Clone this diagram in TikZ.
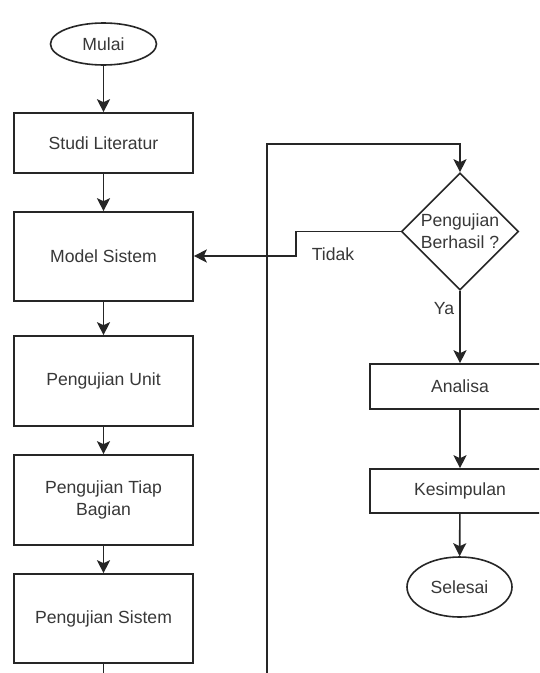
\documentclass[tikz,border=0pt]{standalone}
\usepackage{fontspec}
\setmainfont{Liberation Sans}
\usetikzlibrary{shapes.geometric,arrows.meta}
\begin{document}
\begin{tikzpicture}[x=1pt,y=-1pt,
  font=\fontsize{17.6}{22}\selectfont,
  txt/.style={text=black!78},
  flow/.style={draw=black!85, line width=1.6pt},
  proc/.style={flow, txt, rectangle, minimum width=179pt, align=center, inner sep=0pt},
  term/.style={flow, txt, ellipse, inner sep=0pt},
  decide/.style={flow, txt, diamond, minimum width=117pt, minimum height=117pt, inner sep=0pt, align=center},
  link/.style={draw=black!85, line width=1.6pt, -{Stealth[length=13pt,width=13pt,inset=3pt]}},
  plain/.style={draw=black!85, line width=1.6pt}]
\useasboundingbox (0,0) rectangle (539,673);
\clip (0,0) rectangle (539,673);
\fill[white] (0,0) rectangle (539,673);

% left column
\node[term, minimum width=106pt, minimum height=42pt] (mulai) at (103.5,44) {Mulai};
\node[proc, minimum height=60pt] (studi) at (103.5,143) {Studi Literatur};
\node[proc, minimum height=89pt] (model) at (103.5,256.5) {Model Sistem};
\node[proc, minimum height=90pt] (unit) at (103.5,381) {Pengujian Unit};
\node[proc, minimum height=90pt] (tiap) at (103.5,500) {Pengujian Tiap\\Bagian};
\node[proc, minimum height=89pt] (sistem) at (103.5,618.5) {Pengujian Sistem};

% right column
\node[decide] (uji) at (460,231.5) {Pengujian\\Berhasil ?};
\node[proc, minimum width=180pt, minimum height=45pt] (analisa) at (460,386.5) {Analisa};
\node[proc, minimum width=180pt, minimum height=44pt] (kesim) at (460,491) {Kesimpulan};
\node[term, minimum width=105pt, minimum height=60pt] (selesai) at (459.5,587) {Selesai};

% routing points
\coordinate (sisEnd) at (103.5,673);
\coordinate (loopBot) at (267,673);
\coordinate (loopTop) at (267,144);
\coordinate (jogA) at (296,231.5);
\coordinate (jogB) at (296,256);

% connectors
\draw[link] (mulai) -- (studi);
\draw[link] (studi) -- (model);
\draw[link] (model) -- (unit);
\draw[link] (unit) -- (tiap);
\draw[link] (tiap) -- (sistem);
\draw[plain] (sistem) -- (sisEnd);
\draw[link] (loopBot) -- (loopTop) -| (uji.north);
\draw[link] (uji.west) -- (jogA) -- (jogB) -- (model.east |- jogB);
\draw[link] (uji) -- (analisa);
\draw[link] (analisa) -- (kesim);
\draw[link] (kesim) -- (selesai);

% branch labels
\node[txt] (tidak) at (333,254) {Tidak};
\node[txt] (ya) at (444,309) {Ya};
\end{tikzpicture}
\end{document}
